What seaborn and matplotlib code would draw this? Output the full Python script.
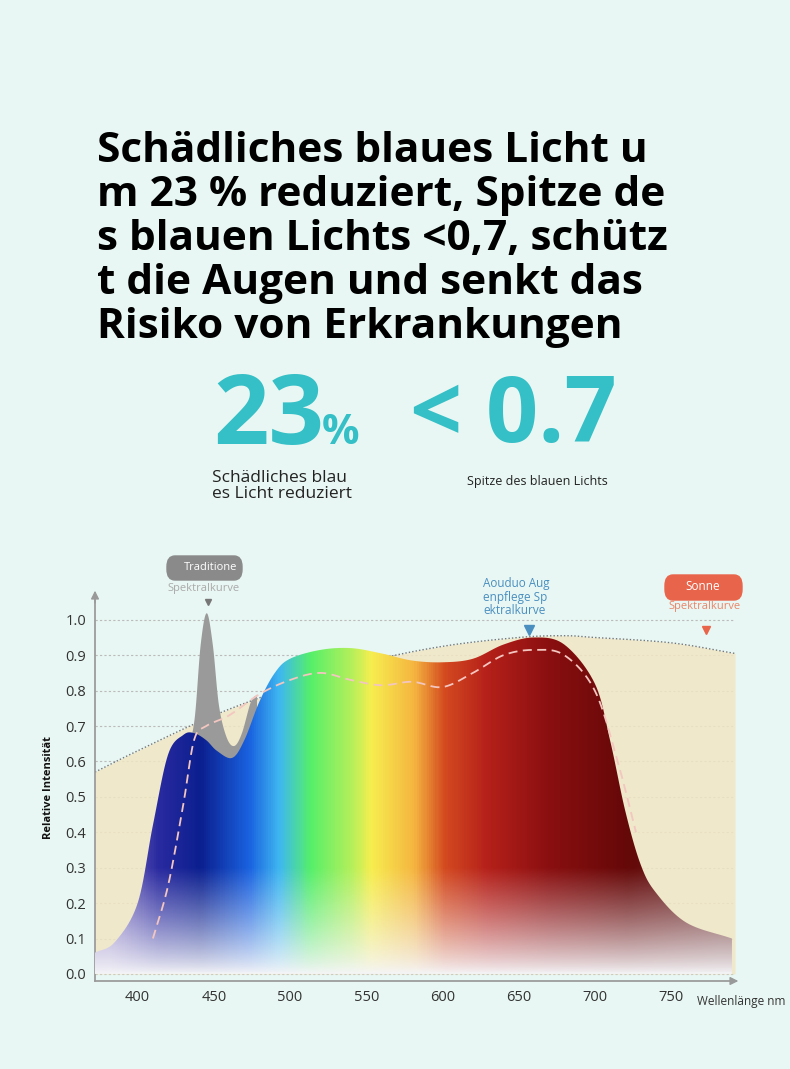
import numpy as np
import matplotlib
matplotlib.use("Agg")
import matplotlib.pyplot as plt
import seaborn as sns
from matplotlib.colors import LinearSegmentedColormap
from matplotlib.patches import FancyBboxPatch

sns.set_theme(style="white")
plt.rcParams["font.family"] = ["Open Sans", "DejaVu Sans"]

# ---- data ----
wl_main = [372, 385, 400, 410, 420, 430, 437, 445, 452, 462, 470, 480, 490, 500, 520, 540,
           560, 580, 600, 620, 640, 660, 680, 700, 710, 720, 730, 740, 760, 790]
int_main = [0.06, 0.09, 0.20, 0.42, 0.62, 0.675, 0.68, 0.66, 0.63, 0.61, 0.66, 0.77, 0.85, 0.89,
            0.915, 0.92, 0.905, 0.885, 0.88, 0.89, 0.93, 0.95, 0.93, 0.82, 0.66, 0.46, 0.31,
            0.23, 0.145, 0.10]
wl_trad = [432, 437, 441, 445, 449, 453, 458, 463, 468, 474, 478]
int_trad = [0.62, 0.72, 0.93, 1.02, 0.93, 0.76, 0.67, 0.645, 0.68, 0.77, 0.79]
wl_dash = [410, 420, 430, 437, 445, 460, 480, 500, 520, 540, 560, 580, 600, 620, 640, 660,
           680, 700, 715, 727]
int_dash = [0.10, 0.25, 0.48, 0.66, 0.70, 0.73, 0.79, 0.83, 0.85, 0.83, 0.815, 0.825, 0.81,
            0.85, 0.90, 0.915, 0.90, 0.80, 0.60, 0.40]
wl_sun = [372, 400, 450, 500, 550, 600, 650, 680, 700, 750, 792]
int_sun = [0.57, 0.63, 0.73, 0.81, 0.88, 0.925, 0.95, 0.955, 0.95, 0.935, 0.905]
x_ticks = [400, 450, 500, 550, 600, 650, 700, 750]
y_ticks = [0.0, 0.1, 0.2, 0.3, 0.4, 0.5, 0.6, 0.7, 0.8, 0.9, 1.0]

title_lines = ["Schädliches blaues Licht u", "m 23 % reduziert, Spitze de",
               "s blauen Lichts <0,7, schütz", "t die Augen und senkt das",
               "Risiko von Erkrankungen"]


def smooth(x, y, n=12):
    # Catmull-Rom rendering through the read points
    x = np.asarray(x, float)
    y = np.asarray(y, float)
    px = np.concatenate([[2 * x[0] - x[1]], x, [2 * x[-1] - x[-2]]])
    py = np.concatenate([[2 * y[0] - y[1]], y, [2 * y[-1] - y[-2]]])
    ox, oy = [], []
    t = np.linspace(0, 1, n, endpoint=False)
    for i in range(1, len(px) - 2):
        for p, o in ((px, ox), (py, oy)):
            p0, p1, p2, p3 = p[i - 1], p[i], p[i + 1], p[i + 2]
            o.extend(0.5 * (2 * p1 + (-p0 + p2) * t + (2 * p0 - 5 * p1 + 4 * p2 - p3) * t ** 2
                            + (-p0 + 3 * p1 - 3 * p2 + p3) * t ** 3))
    ox.append(x[-1])
    oy.append(y[-1])
    return np.array(ox), np.array(oy)


bg = "#e8f7f3"
fig = plt.figure(figsize=(7.9, 10.69), dpi=100, facecolor=bg)

for i, line in enumerate(title_lines):
    fig.text(97 / 790, 1 - (152 + i * 44) / 1069, line, fontsize=30.5, fontweight="bold",
             color="black", va="center", ha="left")

teal = "#35bfc6"
fig.text(213 / 790, 1 - 418 / 1069, "23", fontsize=70, fontweight="bold", color=teal, va="center")
fig.text(322 / 790, 1 - 433 / 1069, "%", fontsize=30, fontweight="bold", color=teal, va="center")
fig.text(410 / 790, 1 - 418 / 1069, "< 0.7", fontsize=66, fontweight="bold", color=teal, va="center")
fig.text(212 / 790, 1 - 486 / 1069, "Schädliches blau\nes Licht reduziert", fontsize=12.5,
         color="#222", va="center", linespacing=0.95)
fig.text(467 / 790, 1 - 482 / 1069, "Spitze des blauen Lichts", fontsize=9, color="#222", va="center")

ax = fig.add_axes([95 / 790, 1 - 981 / 1069, 640 / 790, 386 / 1069])
ax.set_facecolor(bg)
xmin, xmax, ymin, ymax = 372, 792, -0.02, 1.07
ax.set_xlim(xmin, xmax)
ax.set_ylim(ymin, ymax)

for y in y_ticks:
    ax.axhline(y, color="#bbbbbb", lw=0.8, ls=(0, (2, 2)), zorder=0)

sx, sy = smooth(wl_sun, int_sun)
sns.lineplot(x=sx, y=sy, ax=ax, color="#777", lw=1, ls=(0, (1, 1.5)), zorder=2, sort=False)
ax.fill_between(sx, 0, sy, color="#f1e6c4", alpha=0.85, lw=0, zorder=1)

tx, ty = smooth(wl_trad, int_trad)
ax.fill_between(tx, 0.5, ty, color="#9a9a9a", lw=0, zorder=3)

stops = [(0.0, "#8f7fc8"), (0.08, "#2a2aa0"), (0.15, "#0b1f8f"), (0.23, "#1a62e0"),
         (0.28, "#3fb8f0"), (0.33, "#55ef6a"), (0.40, "#b8f05a"), (0.43, "#f7ee4f"),
         (0.50, "#f5b540"), (0.55, "#d44a20"), (0.62, "#b5201a"), (0.72, "#8a0f10"),
         (0.85, "#650808"), (1.0, "#6a2a2a")]
cmap = LinearSegmentedColormap.from_list("spec", stops)
xs = np.linspace(xmin, xmax, 600)
ys = np.linspace(ymin, ymax, 300)
frac = (xs - 380) / (783 - 380)
rgb = cmap(np.clip(frac, 0, 1))[:, :3]
img = np.repeat(rgb[None, :, :], len(ys), axis=0)
fade = np.clip((ys - 0.0) / 0.3, 0, 1)[:, None, None] ** 0.8
white = np.array([0.96, 0.96, 0.97])
img = img * fade + white * (1 - fade)
im = ax.imshow(img, extent=[xmin, xmax, ymin, ymax], origin="lower", aspect="auto", zorder=4)
mx, my = smooth(wl_main, int_main)
poly = ax.fill_between(mx, 0, my, color="none", lw=0)
im.set_clip_path(poly.get_paths()[0], transform=ax.transData)

dx, dy = smooth(wl_dash, int_dash)
sns.lineplot(x=dx, y=dy, ax=ax, color="#f3c6c0", lw=1.3, ls=(0, (5, 3)), zorder=5, sort=False)

for s in ["top", "right"]:
    ax.spines[s].set_visible(False)
ax.spines["left"].set_color("#999")
ax.spines["bottom"].set_color("#999")
ax.set_xticks(x_ticks)
ax.set_yticks(y_ticks)
ax.set_yticklabels([f"{v:.1f}" for v in y_ticks])
ax.tick_params(labelsize=10.5, colors="#333", length=3)
ax.set_ylabel("Relative Intensität", fontsize=8, fontweight="bold", color="#111", labelpad=8)
ax.annotate("", xy=(xmax + 4, ymin), xytext=(xmax - 2, ymin), annotation_clip=False,
            arrowprops=dict(arrowstyle="-|>", color="#999", lw=1))
ax.annotate("", xy=(xmin, 1.09), xytext=(xmin, 1.04), annotation_clip=False,
            arrowprops=dict(arrowstyle="-|>", color="#999", lw=1))
fig.text(697 / 790, 1 - 1001 / 1069, "Wellenlänge nm", fontsize=8.5, color="#333", va="center")

fig.patches.append(FancyBboxPatch((167 / 790, 1 - 580 / 1069), 75 / 790, 24 / 1069,
                                  boxstyle="round,pad=0,rounding_size=0.01",
                                  transform=fig.transFigure, color="#8a8a8a"))
fig.text(184 / 790, 1 - 567 / 1069, "Traditione", fontsize=8, color="white", va="center")
fig.text(167 / 790, 1 - 588 / 1069, "Spektralkurve", fontsize=8, color="#aaa", va="center")
fig.patches.append(FancyBboxPatch((665 / 790, 1 - 600 / 1069), 77 / 790, 25 / 1069,
                                  boxstyle="round,pad=0,rounding_size=0.01",
                                  transform=fig.transFigure, color="#e8644a"))
fig.text(703 / 790, 1 - 587 / 1069, "Sonne", fontsize=8.5, color="white", va="center", ha="center")
fig.text(705 / 790, 1 - 607 / 1069, "Spektralkurve", fontsize=8, color="#e8866a", va="center", ha="center")
fig.text(483 / 790, 1 - 597 / 1069, "Aouduo Aug\nenpflege Sp\nektralkurve", fontsize=8.5,
         color="#4a8fc0", va="center", linespacing=1.0)
ax.plot([446], [1.05], marker="v", color="#777", ms=5, clip_on=False)
ax.plot([657], [0.97], marker="v", color="#4a8fc0", ms=7, clip_on=False)
ax.plot([773], [0.97], marker="v", color="#e8644a", ms=6, clip_on=False)

fig.savefig("out.png", dpi=100, facecolor=bg)
